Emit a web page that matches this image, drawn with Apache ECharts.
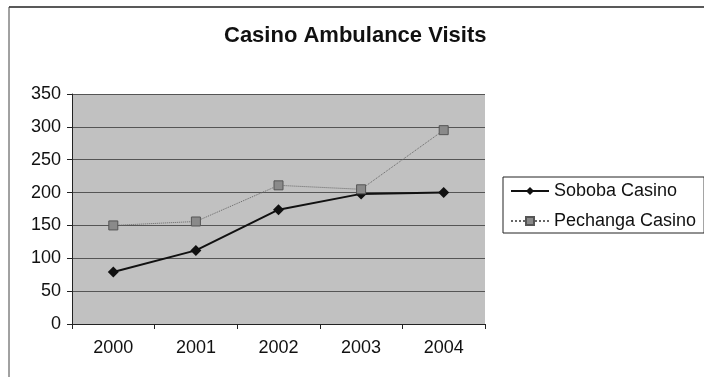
<!DOCTYPE html>
<html lang="en">
<head>
    <meta charset="UTF-8">
    <title>Casino Ambulance Visits</title>
    <script src="https://cdn.jsdelivr.net/npm/echarts@6/dist/echarts.min.js"></script>
    <style>
        html, body { margin: 0; padding: 0; background: #fff; }
        #chart { width: 704px; height: 377px; }
    </style>
</head>
<body>
    <div id="chart"></div>
    <script>
        // data
        var years = ['2000', '2001', '2002', '2003', '2004'];
        var soboba = [79, 112, 174, 198, 200];
        var pechanga = [150, 156, 211, 205, 295];

        var chart = echarts.init(document.getElementById('chart'));
        var font = '"Liberation Sans", Arial, sans-serif';

        var option = {
            animation: false,
            backgroundColor: '#fff',
            textStyle: { fontFamily: font },
            title: {
                text: 'Casino Ambulance Visits',
                left: 224,
                top: 25,
                padding: 0,
                textStyle: { fontFamily: font, fontSize: 22, fontWeight: 'bold', color: '#111' }
            },
            // chart area border (top and left edges are all that show)
            graphic: [
                { type: 'line', shape: { x1: 9, y1: 7, x2: 704, y2: 7 }, style: { stroke: '#222', lineWidth: 1.5 } },
                { type: 'line', shape: { x1: 9, y1: 7, x2: 9, y2: 377 }, style: { stroke: '#444', lineWidth: 1 } }
            ],
            grid: {
                left: 72, right: 219, top: 94, bottom: 53,
                show: true,
                backgroundColor: '#c1c1c1',
                borderWidth: 0
            },
            legend: {
                orient: 'vertical',
                left: 503,
                top: 177,
                padding: [5, 8, 3, 7],
                itemGap: 12,
                itemWidth: 38,
                itemHeight: 10,
                borderColor: '#222',
                borderWidth: 1,
                textStyle: { fontFamily: font, fontSize: 18, color: '#111' },
                data: ['Soboba Casino', 'Pechanga Casino']
            },
            xAxis: {
                type: 'category',
                data: years,
                boundaryGap: true,
                axisLine: { lineStyle: { color: '#222' } },
                axisTick: { show: true, length: 5, lineStyle: { color: '#222' } },
                axisLabel: { fontFamily: font, fontSize: 18, color: '#111', margin: 15 },
                splitLine: { show: false }
            },
            yAxis: {
                type: 'value',
                min: 0,
                max: 350,
                interval: 50,
                axisLine: { show: true, lineStyle: { color: '#222' } },
                axisTick: { show: true, length: 5, lineStyle: { color: '#222' } },
                axisLabel: { fontFamily: font, fontSize: 18, color: '#111', margin: 11 },
                splitLine: { show: true, lineStyle: { color: '#555', width: 1 } }
            },
            series: [
                {
                    name: 'Soboba Casino',
                    type: 'line',
                    data: soboba,
                    symbol: 'diamond',
                    symbolSize: 11,
                    itemStyle: { color: '#111' },
                    lineStyle: { color: '#111', width: 2 }
                },
                {
                    name: 'Pechanga Casino',
                    type: 'line',
                    data: pechanga,
                    symbol: 'rect',
                    symbolSize: 9,
                    itemStyle: { color: '#8a8a8a', borderColor: '#555', borderWidth: 1 },
                    lineStyle: { color: '#666', width: 1, type: 'dotted' }
                }
            ]
        };

        chart.setOption(option);
    </script>
</body>
</html>
